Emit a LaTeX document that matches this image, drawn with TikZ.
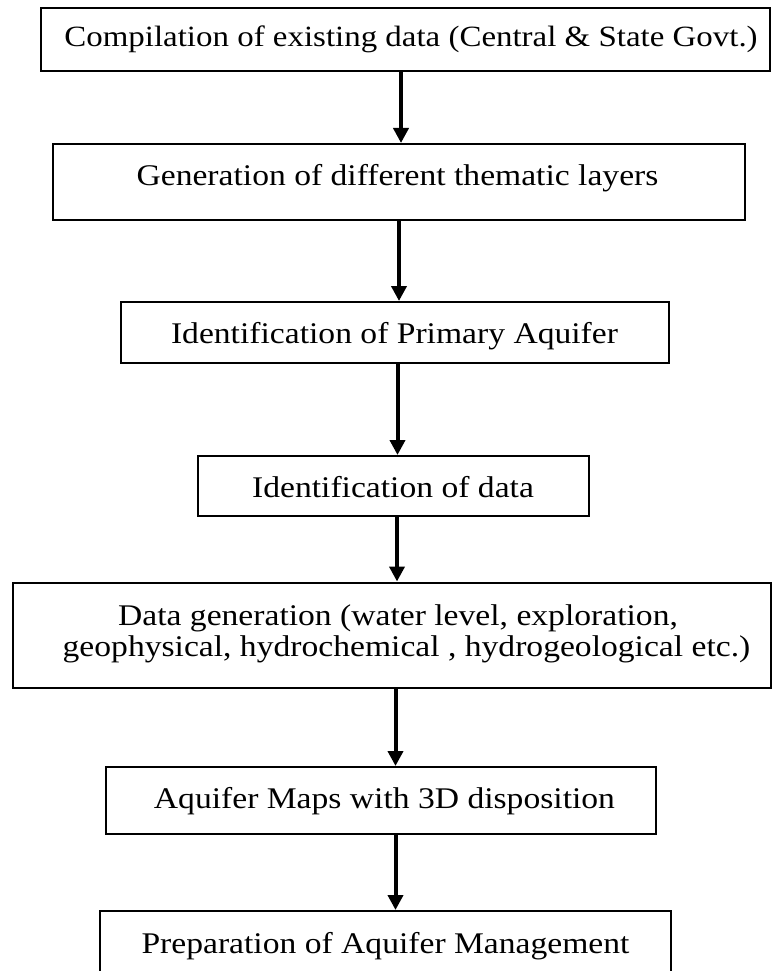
\documentclass[tikz,border=0pt]{standalone}
\usepackage{fontspec}
\setmainfont{Liberation Serif}[FakeStretch=1.12]
\usetikzlibrary{arrows.meta}
\begin{document}
\begin{tikzpicture}[x=1pt,y=-1pt,
  box/.style={draw, line width=2pt, inner sep=0pt, rectangle},
  txt/.style={anchor=base, inner sep=0pt, font=\fontsize{30}{32}\selectfont},
  arr/.style={line width=4pt, -{Triangle[width=15pt,length=15pt]}}]
\useasboundingbox (0,0) rectangle (772,971);
\clip (0,0) rectangle (772,971);
% boxes
\node[box, minimum width=729pt, minimum height=63pt] (b1) at (405.5,39.5) {};
\node[box, minimum width=692pt, minimum height=76pt] (b2) at (399,182) {};
\node[box, minimum width=548pt, minimum height=61pt] (b3) at (395,332.5) {};
\node[box, minimum width=391pt, minimum height=60pt] (b4) at (393.5,486) {};
\node[box, minimum width=758pt, minimum height=105pt] (b5) at (391.5,635) {};
\node[box, minimum width=550pt, minimum height=67pt] (b6) at (381,800.5) {};
\node[box, minimum width=571pt, minimum height=79pt] (b7) at (385.5,950.5) {};
% texts
\node[txt, font=\fontsize{29.4}{32}\selectfont] (t1) at (411,47) {Compilation of existing data (Central \& State Govt.)};
\node[txt] (t2) at (397.5,185) {Generation of different thematic layers};
\node[txt] (t3) at (394.5,343) {Identification of Primary Aquifer};
\node[txt] (t4) at (393,497) {Identification of data};
\node[txt] (t5a) at (398,625) {Data generation (water level, exploration,};
\node[txt] (t5b) at (406.5,656) {geophysical, hydrochemical , hydrogeological etc.)};
\node[txt] (t6) at (384.5,808) {Aquifer Maps with 3D disposition};
\node[txt] (t7) at (385.5,953) {Preparation of Aquifer Management};
% arrow columns
\coordinate (c1) at (401,0);
\coordinate (c2) at (399,0);
\coordinate (c3) at (397.5,0);
\coordinate (c4) at (397,0);
\coordinate (c5) at (395.5,0);
\coordinate (c6) at (395.5,0);
\draw[arr] (b1.south -| c1) -- (b2.north -| c1);
\draw[arr] (b2.south -| c2) -- (b3.north -| c2);
\draw[arr] (b3.south -| c3) -- (b4.north -| c3);
\draw[arr] (b4.south -| c4) -- (b5.north -| c4);
\draw[arr] (b5.south -| c5) -- (b6.north -| c5);
\draw[arr] (b6.south -| c6) -- (b7.north -| c6);
\end{tikzpicture}
\end{document}
